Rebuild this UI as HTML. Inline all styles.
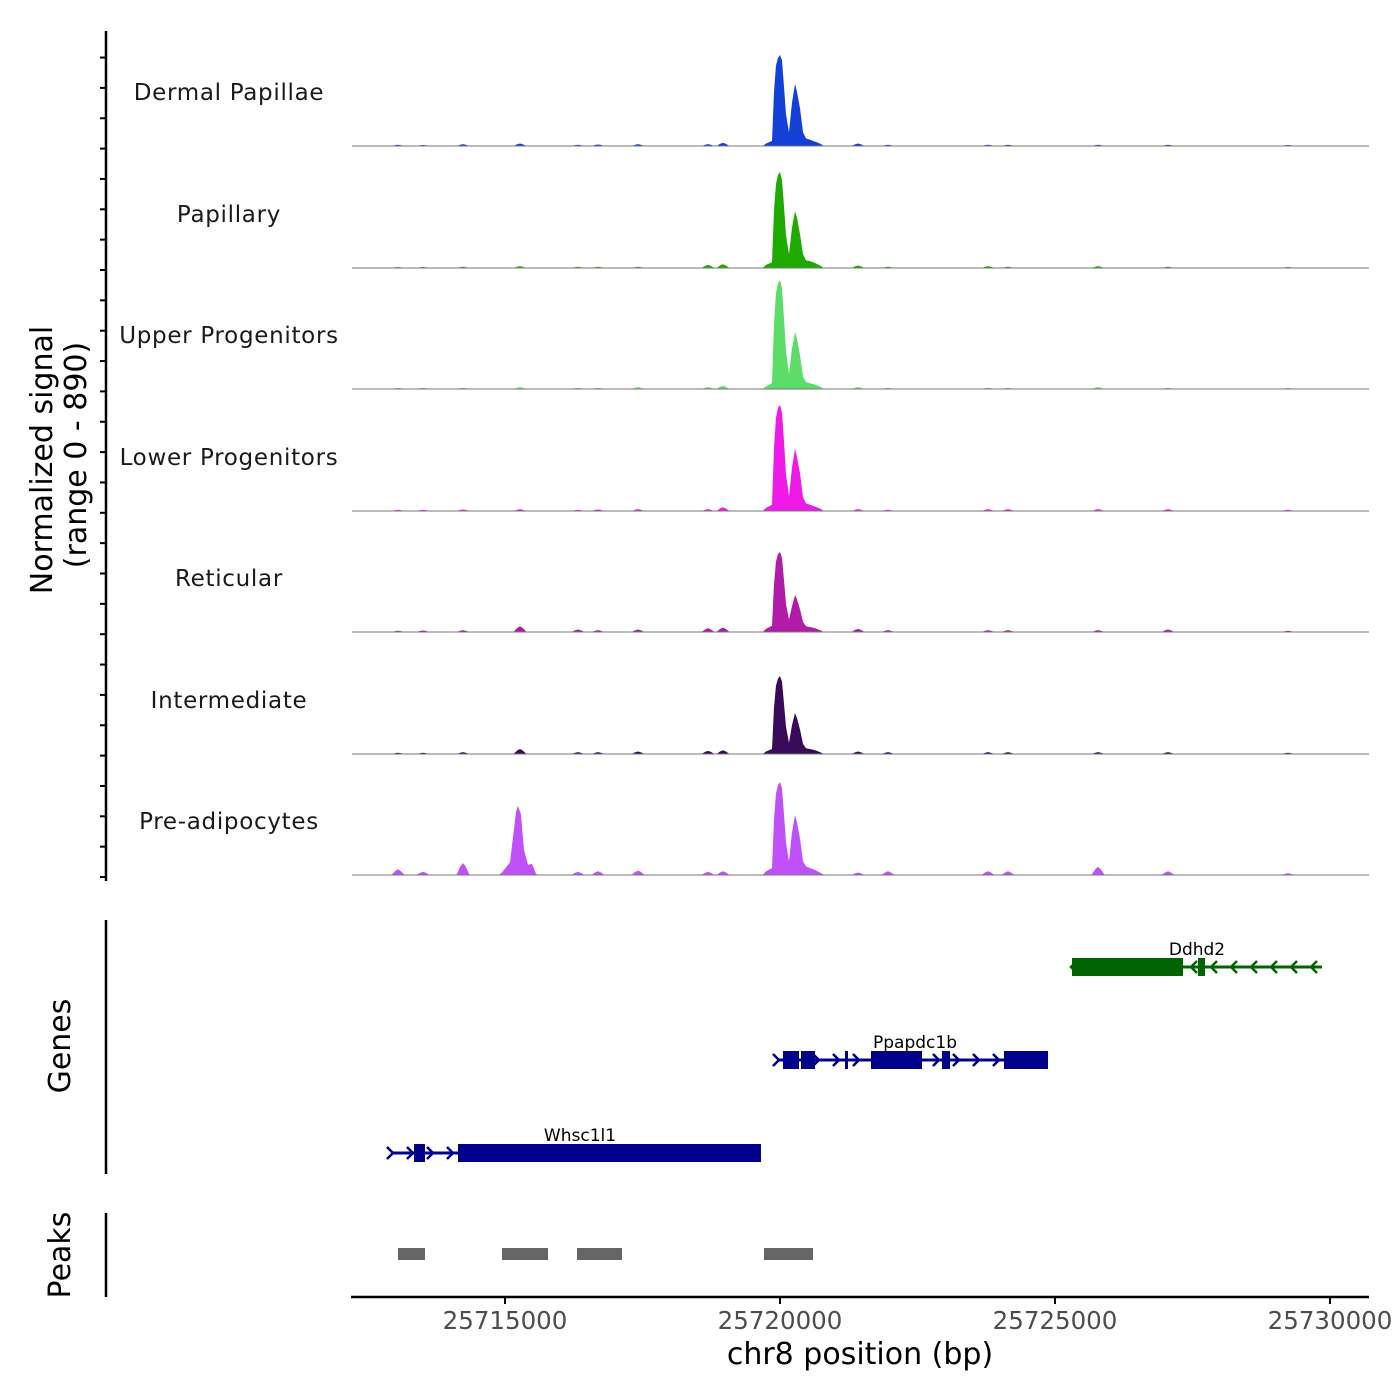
<!DOCTYPE html>
<html><head><meta charset="utf-8"><style>
body{margin:0;background:#fff}
svg{display:block;font-family:"DejaVu Sans","Liberation Sans",sans-serif}
</style></head><body>
<svg id="chart" width="1400" height="1400" viewBox="0 0 1400 1400">
<g id="tracks"></g>
<g id="axes"></g>
<g id="genes"></g>
<g id="peaks"></g>
</svg>
<script>
const trackNames=["Dermal Papillae","Papillary","Upper Progenitors","Lower Progenitors","Reticular","Intermediate","Pre-adipocytes"];
const trackColors=["#1440d8","#1faa00","#5cdd6a","#ee1ae8","#b21aa8","#3a0a5a","#c050f8"];
const peakPos=[25719745,25719854,25719891,25719927,25719963,25720000,25720036,25720073,25720109,25720164,25720218,25720273,25720309,25720364,25720418,25720473,25720545,25720636,25720727,25720800];
const dermalVals=[20,40,430,640,700,723,680,470,250,110,345,493,430,300,110,60,50,35,20,0];
const papillaryVals=[25,45,460,670,740,763,700,490,260,110,320,453,400,270,110,60,55,40,20,0];
const upperVals=[20,45,520,760,840,866,800,560,300,120,320,453,400,270,100,55,45,35,20,0];
const lowerVals=[25,50,500,740,820,843,780,550,290,120,345,493,430,300,110,60,50,35,20,0];
const reticularVals=[25,50,380,560,620,636,590,410,220,100,205,294,260,180,80,45,40,30,15,0];
const intermediateVals=[20,40,370,545,600,620,575,400,215,90,230,326,285,195,80,45,40,30,15,0];
const preVals=[30,55,440,650,715,739,690,480,260,110,335,477,420,290,110,70,55,40,20,0];
const preLeftPos=[25714945,25715018,25715091,25715145,25715200,25715236,25715291,25715345,25715418,25715491,25715564];
const preLeftVals=[20,60,100,300,500,550,480,200,80,90,10];
const bumpPos=[25713054,25713509,25714236,25715272,25716327,25716691,25717418,25718691,25718963,25721418,25721963,25723782,25724145,25725782,25727054,25729236];
const dermalBumps=[10,8,15,20,10,12,15,15,25,20,10,10,10,10,10,8];
const papillaryBumps=[8,8,10,15,10,10,10,25,30,20,10,15,10,15,10,8];
const upperBumps=[10,10,10,15,10,10,15,15,25,15,10,10,10,15,10,8];
const lowerBumps=[10,10,12,15,10,12,15,15,30,15,10,15,15,15,15,10];
const reticularBumps=[10,12,15,45,20,15,20,30,35,25,15,15,15,15,20,10];
const intermediateBumps=[10,10,15,40,15,15,20,25,30,20,15,15,15,15,15,10];
const preBumps=[45,25,95,40,25,30,35,25,30,20,30,30,30,65,30,15];
const allVals=[dermalVals,papillaryVals,upperVals,lowerVals,reticularVals,intermediateVals,preVals];
const allBumps=[dermalBumps,papillaryBumps,upperBumps,lowerBumps,reticularBumps,intermediateBumps,preBumps];
const xTicks=[25715000,25720000,25725000,25730000];
const genePlus={name:"Ppapdc1b",start:25719963,end:25724873,exStart:[25720054,25720382,25721182,25721654,25722945,25724072],exEnd:[25720345,25720636,25721236,25722582,25723091,25724873]};
const geneW={name:"Whsc1l1",start:25712945,end:25719654,exStart:[25713345,25714145],exEnd:[25713545,25719654]};
const geneD={name:"Ddhd2",start:25725309,end:25729854,exStart:[25725309,25727600],exEnd:[25727327,25727727]};
const peakStarts=[25713054,25714945,25716309,25719709];
const peakEnds=[25713545,25715782,25717127,25720600];

const NS="http://www.w3.org/2000/svg";
const X0=352,X1=1369,BP0=25712218,PXBP=0.055;
const xs=bp=>X0+(bp-BP0)*PXBP;
const baselines=[146,268,389,511,632,754,875];
const ys=(v,b)=>b-v/890*112;
function mk(tag,attrs,parent){const e=document.createElementNS(NS,tag);for(const k in attrs)e.setAttribute(k,attrs[k]);parent.appendChild(e);return e;}
const T=document.getElementById('tracks');
trackNames.forEach((nm,i)=>{
  const b=baselines[i],col=trackColors[i];
  const g=mk('g',{},T);
  
  
  let d='M'+xs(peakPos[0]-60)+','+b;
  peakPos.forEach((p,j)=>{d+=' L'+xs(p).toFixed(1)+','+ys(allVals[i][j],b).toFixed(1);});
  d+=' L'+xs(peakPos[peakPos.length-1]+40)+','+b+' Z';
  const pk=mk('path',{d:d,fill:col},g);
  
  
  bumpPos.forEach((p,j)=>{
    const v=allBumps[i][j];
    const bd='M'+xs(p-120).toFixed(1)+','+b+' L'+xs(p-50).toFixed(1)+','+ys(v*0.7,b).toFixed(1)+' L'+xs(p).toFixed(1)+','+ys(v,b).toFixed(1)+' L'+xs(p+50).toFixed(1)+','+ys(v*0.7,b).toFixed(1)+' L'+xs(p+120).toFixed(1)+','+b+' Z';
    const bm=mk('path',{d:bd,fill:col},g);
    
    
  });
  if(i===6){
    let ld='M'+xs(preLeftPos[0]-60)+','+b;
    preLeftPos.forEach((p,j)=>{ld+=' L'+xs(p).toFixed(1)+','+ys(preLeftVals[j],b).toFixed(1);});
    ld+=' L'+xs(preLeftPos[preLeftPos.length-1]+40)+','+b+' Z';
    const lp=mk('path',{d:ld,fill:col},g);
    
    
  }
  const bl=mk('line',{x1:X0,x2:X1,y1:b,y2:b,stroke:'#777','stroke-width':1},g);
  
  
  const lt=mk('text',{x:229,y:b-46,'text-anchor':'middle','font-size':23,fill:'#1a1a1a','letter-spacing':'0.7'},g);
  lt.textContent=nm;
  
  
});
const A=document.getElementById('axes');
function ln(x1,y1,x2,y2,w,name,p){const l=mk('line',{x1,y1,x2,y2,stroke:'#000','stroke-width':w},p||A);return l;}
ln(106,31,106,881,2.5,'signal-y-axis');
for(let y=877;y>=32;y-=30.35){ln(100,y,106,y,2,'y-tick');}
ln(106,920,106,1174,2.5,'genes-axis');
ln(106,1213,106,1297,2.5,'peaks-axis');
ln(351,1297,1369,1297,2.5,'x-axis');
xTicks.forEach(t=>{
  ln(xs(t),1297,xs(t),1304,2,'x-tick');
  const tx=mk('text',{x:xs(t),y:1329,'text-anchor':'middle','font-size':24.5,fill:'#4d4d4d'},A);
  tx.textContent=t;
  
  
});
function txt(s,x,y,size,rot,name){const t=mk('text',{x,y,'text-anchor':'middle','font-size':size,fill:'#000'},A);if(rot)t.setAttribute('transform','rotate(-90 '+x+' '+y+')');t.textContent=s;}
txt('chr8 position (bp)',860,1364,30,false,'x-axis-title');
txt('Normalized signal',52,460,30,true,'y-axis-title');
txt('(range 0 - 890)',86,455,30,true,'y-axis-range');
txt('Genes',70,1046,30,true,'genes-axis-title');
txt('Peaks',70,1255,30,true,'peaks-axis-title');
const G=document.getElementById('genes');
function drawGene(g,y,col,dir){
  const gg=mk('g',{},G);
  
  
  mk('line',{x1:xs(g.start),x2:xs(g.end),y1:y,y2:y,stroke:col,'stroke-width':3},gg);
  for(let x=xs(g.start);x<xs(g.end);x+=20){
    const d=dir>0?`M${x-5},${y-6} L${x+1},${y} L${x-5},${y+6}`:`M${x+5},${y-6} L${x-1},${y} L${x+5},${y+6}`;
    mk('path',{d,stroke:col,'stroke-width':2.5,fill:'none'},gg);
  }
  g.exStart.forEach((s,j)=>{mk('rect',{x:xs(s),y:y-9,width:xs(g.exEnd[j])-xs(s),height:18,fill:col},gg);});
  const t=mk('text',{x:(xs(g.start)+xs(g.end))/2,y:y-12,'text-anchor':'middle','font-size':17,fill:'#000'},gg);
  t.textContent=g.name;
}
drawGene(geneD,967,'#006400',-1);
G.lastChild.lastChild.setAttribute('x',1197);
drawGene(genePlus,1060,'#00008b',1);
G.lastChild.lastChild.setAttribute('x',915);
drawGene(geneW,1153,'#00008b',1);
G.lastChild.lastChild.setAttribute('x',580);
const P=document.getElementById('peaks');
peakStarts.forEach((s,j)=>{
  const r=mk('rect',{x:xs(s),y:1248,width:xs(peakEnds[j])-xs(s),height:12,fill:'#666'},P);
  
  
});
</script>
</body></html>
